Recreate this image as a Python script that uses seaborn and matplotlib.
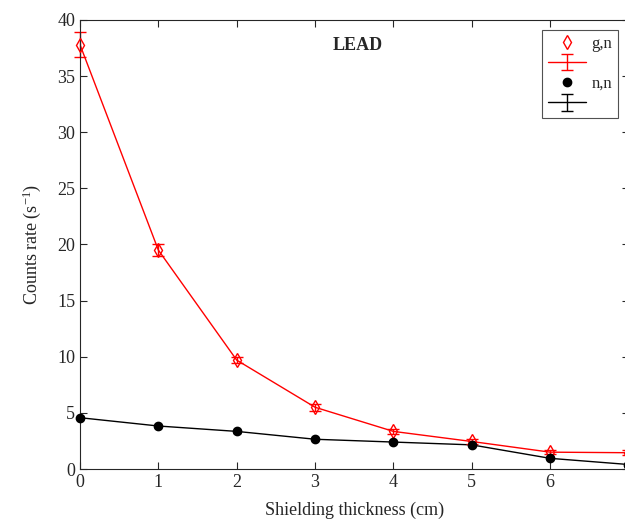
import numpy as np
import pandas as pd
import seaborn as sns
import matplotlib
matplotlib.use("Agg")
import matplotlib.pyplot as plt
from matplotlib.lines import Line2D

thickness = [0, 1, 2, 3, 4, 5, 6, 7]
gn_rate = [37.8, 19.5, 9.7, 5.5, 3.35, 2.45, 1.5, 1.45]
gn_err = [1.1, 0.5, 0.3, 0.3, 0.25, 0.2, 0.2, 0.2]
nn_rate = [4.57, 3.83, 3.35, 2.65, 2.4, 2.15, 0.95, 0.4]
nn_err = [0.12, 0.1, 0.1, 0.1, 0.1, 0.1, 0.08, 0.08]
xtick_labels = ["0", "1", "2", "3", "4", "5", "6", ""]

sns.set_style("ticks")
plt.rcParams["font.family"] = ["Liberation Serif", "DejaVu Serif"]
plt.rcParams["mathtext.fontset"] = "custom"
plt.rcParams["mathtext.rm"] = "Liberation Serif"
plt.rcParams["mathtext.it"] = "Liberation Serif:italic"

df = pd.DataFrame({"x": thickness, "gn": gn_rate, "nn": nn_rate})

fig = plt.figure(figsize=(6.25, 5.21), dpi=100)
ax = fig.add_axes([80 / 625, 52 / 521, (628.5 - 80) / 625, (469 - 20) / 521])

sns.lineplot(data=df, x="x", y="gn", ax=ax, color="red", linewidth=1.0)
sns.lineplot(data=df, x="x", y="nn", ax=ax, color="black", linewidth=1.0)

eb_r = ax.errorbar(thickness, gn_rate, yerr=gn_err, fmt="none", ecolor="red",
                   elinewidth=1.0, capsize=4, capthick=1.0)
ax.plot(thickness, gn_rate, linestyle="none", marker="d", markersize=7,
        markerfacecolor="none", markeredgecolor="red", markeredgewidth=1.0,
        clip_on=False, zorder=4)
eb_k = ax.errorbar(thickness, nn_rate, yerr=nn_err, fmt="none", ecolor="black",
                   elinewidth=1.0, capsize=3, capthick=1.0)
ax.plot(thickness, nn_rate, linestyle="none", marker="o", markersize=6,
        markerfacecolor="black", markeredgecolor="black", clip_on=False, zorder=4)
for c in list(eb_r.lines[1]) + list(eb_r.lines[2]):
    c.set_clip_on(False)

ax.set_xlim(0, 7)
ax.set_ylim(0, 40)
ax.set_xticks(thickness)
ax.set_xticklabels(xtick_labels)
ax.set_yticks(range(0, 41, 5))
ax.tick_params(direction="in", top=True, right=True, labelsize=13,
               colors="#262626", length=5, width=0.8)
for s in ax.spines.values():
    s.set_visible(True)
    s.set_color("#262626")
    s.set_linewidth(0.8)

ax.set_xlabel("Shielding thickness (cm)", fontsize=13, color="#262626", labelpad=8)
ax.set_ylabel("Counts rate (s$^{-1}$)", fontsize=13, color="#262626", labelpad=10)
ax.text(3.55, 37.7, "LEAD", fontsize=13, fontweight="bold", ha="center", va="center")

h_gn = Line2D([], [], linestyle="none", marker="d", markersize=7,
              markerfacecolor="none", markeredgecolor="red")
h_gn_eb = ax.errorbar([np.nan], [np.nan], yerr=[1], color="red", linewidth=1.0,
                      capsize=4, capthick=1.0)
h_nn = Line2D([], [], linestyle="none", marker="o", markersize=6,
              markerfacecolor="black", markeredgecolor="black")
h_nn_eb = ax.errorbar([np.nan], [np.nan], yerr=[1], color="black", linewidth=1.0,
                      capsize=4, capthick=1.0)
leg = ax.legend([h_gn, h_gn_eb, h_nn, h_nn_eb], ["g,n", "", "n,n", ""],
                loc="upper right", bbox_to_anchor=(0.981, 0.978), borderaxespad=0,
                fontsize=12, frameon=True, fancybox=False, edgecolor="#262626",
                handlelength=2.3, borderpad=0.35, labelspacing=0.25,
                handletextpad=0.3, labelcolor="#262626")
leg.get_frame().set_linewidth(0.8)

fig.savefig("out.png", dpi=100)
